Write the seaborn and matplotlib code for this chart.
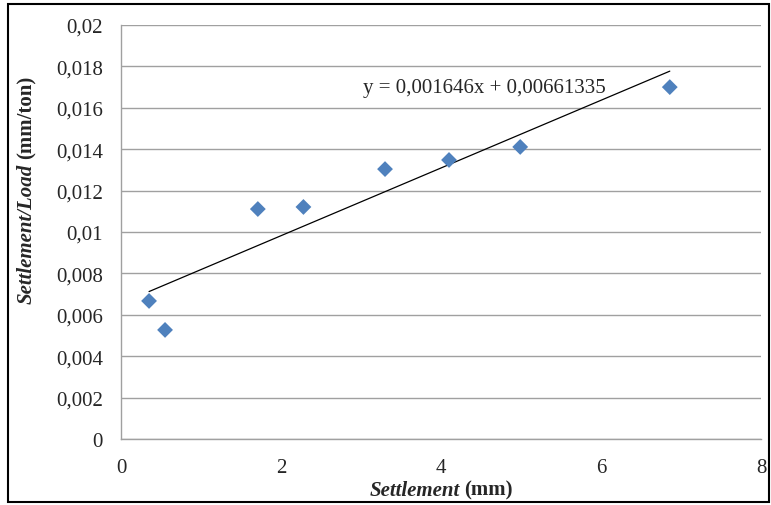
import numpy as np
import pandas as pd
import matplotlib
matplotlib.use("Agg")
import matplotlib.pyplot as plt
import seaborn as sns

# values
settlement = [0.35, 0.55, 1.71, 2.28, 3.30, 4.10, 4.99, 6.86]
settlement_per_load = [0.00667, 0.00527, 0.01111, 0.01121, 0.01304, 0.01348, 0.01411, 0.01700]
y_ticks = [0, 0.002, 0.004, 0.006, 0.008, 0.010, 0.012, 0.014, 0.016, 0.018, 0.020]
y_tick_labels = ['0', '0,002', '0,004', '0,006', '0,008', '0,01', '0,012', '0,014', '0,016', '0,018', '0,02']
x_ticks = [0, 2, 4, 6, 8]
equation = "y = 0,001646x + 0,00661335"

df = pd.DataFrame({'settlement': settlement, 'ratio': settlement_per_load})

sns.set_style("white")
plt.rcParams['font.family'] = ['Liberation Serif', 'DejaVu Serif']
FS = 15

fig = plt.figure(figsize=(7.71, 5.06), dpi=100)
ax = fig.add_axes([0.157, 0.1304, 0.83, 0.8182])

# fitted trend line (linear), drawn over the data range
sns.regplot(data=df, x='settlement', y='ratio', scatter=False, ci=None, ax=ax,
            line_kws={'color': 'black', 'lw': 0.9})
sns.scatterplot(data=df, x='settlement', y='ratio', marker='D', s=65,
                color='#4F81BD', edgecolor='none', ax=ax, zorder=3)

ax.set_xlim(0, 8)
ax.set_ylim(0, 0.02)
ax.set_xticks(x_ticks)
ax.set_xticklabels([str(v) for v in x_ticks])
ax.set_yticks(y_ticks)
ax.set_yticklabels(y_tick_labels)
ax.tick_params(axis='y', labelsize=FS, length=0, pad=13)
ax.tick_params(axis='x', labelsize=FS, length=0, pad=14)
ax.yaxis.grid(True, color='#A0A0A0', lw=1)
ax.set_axisbelow(True)
for s in ['top', 'right']:
    ax.spines[s].set_visible(False)
for s in ['left', 'bottom']:
    ax.spines[s].set_color('#A0A0A0')
    ax.spines[s].set_linewidth(1)
ax.set_xlabel('')
ax.set_ylabel('')

ax.text(3.02, 0.0170, equation, fontsize=FS, va='center', ha='left')

# axis titles: italic bold part + bold part, centred as a pair
fig.canvas.draw()
r = fig.canvas.get_renderer()
W, H = fig.bbox.width, fig.bbox.height

xa = fig.text(0, 0.02, 'Settlement', fontsize=FS, fontweight='bold',
              fontstyle='italic', ha='left', va='baseline')
xb = fig.text(0, 0.02, '(mm)', fontsize=FS, fontweight='bold', ha='left', va='baseline')
wa = xa.get_window_extent(r).width / W
wb = xb.get_window_extent(r).width / W
gap = 5 / W
x0 = 441 / W - (wa + gap + wb) / 2
xa.set_x(x0)
xb.set_x(x0 + wa + gap)

ya = fig.text(0.034, 0, 'Settlement/Load', fontsize=FS, fontweight='bold',
              fontstyle='italic', rotation=90, ha='center', va='bottom')
yb = fig.text(0.034, 0, '(mm/ton)', fontsize=FS, fontweight='bold',
              rotation=90, ha='center', va='bottom')
ha_ = ya.get_window_extent(r).height / H
hb = yb.get_window_extent(r).height / H
gap = 5 / H
y0 = (1 - 190 / H) - (ha_ + gap + hb) / 2
ya.set_y(y0)
yb.set_y(y0 + ha_ + gap)

# outer frame
fig.patches.append(plt.Rectangle((0.011, 0.006), 0.986, 0.984, transform=fig.transFigure,
                                 fill=False, edgecolor='black', lw=1.5))

fig.savefig('out.png', dpi=100)
